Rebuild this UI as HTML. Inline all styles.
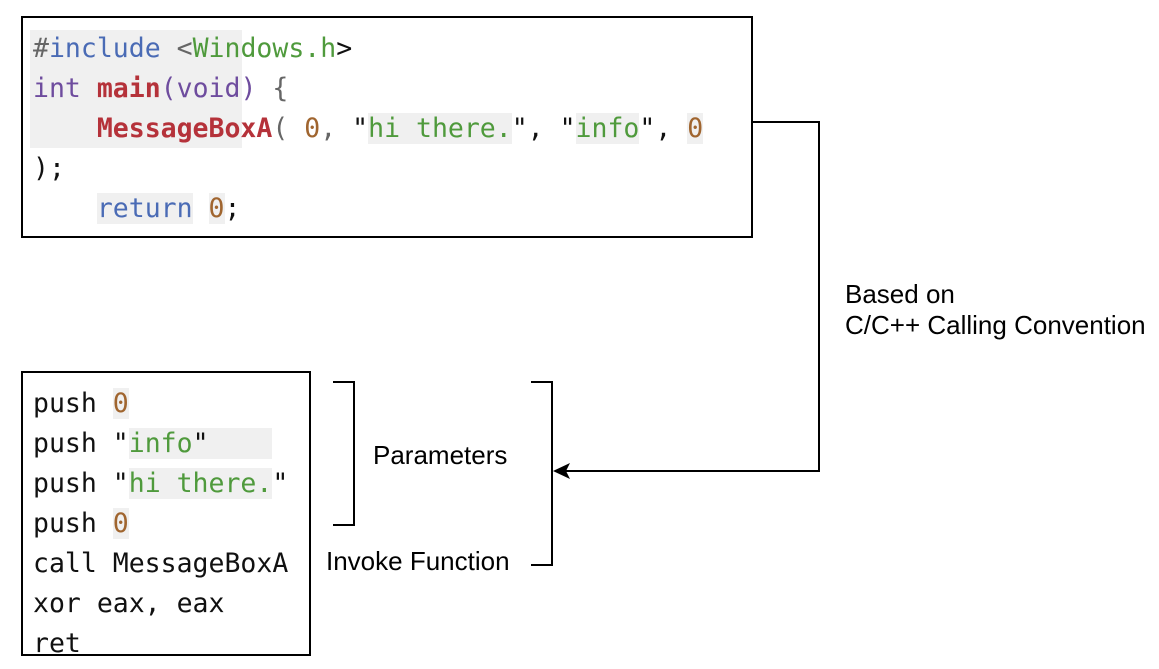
<!DOCTYPE html>
<html><head><meta charset="utf-8"><style>
body{margin:0;width:1159px;height:669px;background:#fff;position:relative;overflow:hidden}
.code{position:absolute;font-family:"DejaVu Sans Mono","Liberation Mono",monospace;font-size:26.5px;line-height:40px;white-space:pre;color:#111}
.lbl{position:absolute;font-family:"Liberation Sans",Arial,sans-serif;font-size:26px;color:#000;white-space:pre;line-height:31px}
.g{color:#4f9a3c}.b{color:#4a6bb5}.r{color:#b5323a;font-weight:bold}.p{color:#6e4c9e}.n{color:#a0652f}.gr{color:#666}
.bg{background:#f0f0f0}
</style></head><body>
<svg width="1159" height="669" style="position:absolute;left:0;top:0">
<rect x="22" y="17" width="730" height="220" fill="none" stroke="#000" stroke-width="2"/>
<rect x="30" y="30" width="212" height="118" fill="#f0f0f0"/>
<rect x="22" y="372" width="288" height="283" fill="none" stroke="#000" stroke-width="2"/>
<polyline points="752,122 819,122 819,471 566,471" fill="none" stroke="#000" stroke-width="2"/>
<polygon points="553,471 570,463 566,471 570,479" fill="#000"/>
<polyline points="333,382 354,382 354,525 333,525" fill="none" stroke="#000" stroke-width="2"/>
<polyline points="531,382 552,382 552,565 531,565" fill="none" stroke="#000" stroke-width="2"/>
</svg>
<div class="code" style="left:33px;top:29px"><span class="gr">#</span><span class="b">include</span> <span class="gr">&lt;</span><span class="g">Windows.h</span>&gt;
<span class="p">int</span> <span class="r">main</span><span class="p">(void)</span> <span class="gr">{</span>
    <span class="r">MessageBoxA</span><span class="gr">(</span> <span class="n">0</span><span class="gr">,</span> "<span class="g bg">hi there.</span>", "<span class="g bg">info</span>", <span class="n bg">0</span>
);
    <span class="b bg">return</span> <span class="n bg">0</span>;</div>
<div class="code" style="left:33px;top:384px">push <span class="n bg">0</span>
push "<span class="bg"><span class="g">info</span>"    </span>
push "<span class="g bg">hi there.</span>"
push <span class="n bg">0</span>
call MessageBoxA
xor eax, eax
ret</div>
<div class="lbl" style="left:373px;top:440px">Parameters</div>
<div class="lbl" style="left:326px;top:546px">Invoke Function</div>
<div class="lbl" style="left:845px;top:279px">Based on
C/C++ Calling Convention</div>
</body></html>
